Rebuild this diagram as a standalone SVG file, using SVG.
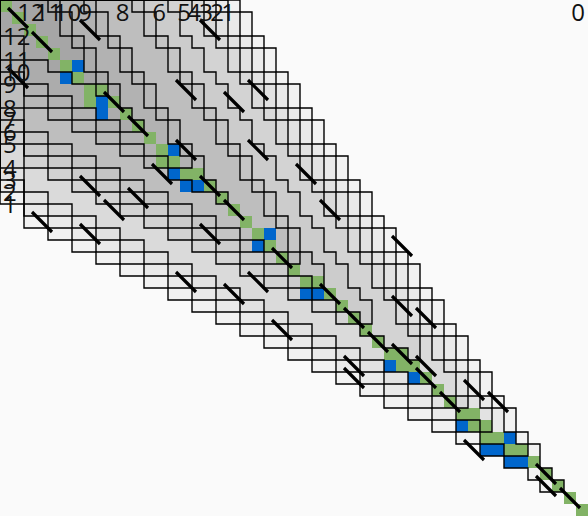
<svg xmlns="http://www.w3.org/2000/svg" width="588" height="516" viewBox="0 0 588 516">
<style>
.lbl{font-family:"Open Sans","Liberation Sans",sans-serif;font-size:24px;fill:#111}
.top{text-anchor:middle}
.g{fill:#82b366}
.b{fill:#0066cc}
</style>
<defs>
<path id="w1" d="M0,0H240V12H252V36H264V48H276V72H288V84H300V108H312V120H324V144H336V156H348V180H360V192H372V216H384V228H396V252H408V264H420V288H432V300H444V324H456V336H468V360H480V372H492V396H504V408H516V432H528V444H540V468H552V480H564V492H540V480H528V468H504V456H480V444H456V432H432V420H408V408H384V396H360V384H336V372H312V360H288V348H264V336H240V324H216V312H192V300H168V288H144V276H120V264H96V252H72V240H48V228H24V204H0Z"/>
<path id="w2" d="M0,0H228V12H240V36H252V48H264V72H276V84H288V108H300V120H312V144H324V156H336V180H348V192H360V216H372V228H384V252H396V264H408V288H420V300H432V324H444V336H456V360H468V372H480V396H492V408H504V432H516V444H528V456H504V444H480V432H456V420H432V408H408V396H384V384H360V372H336V360H312V348H288V336H264V324H240V312H216V300H192V288H168V276H144V264H120V252H96V240H72V228H48V216H24V192H0Z"/>
<path id="w3" d="M0,0H216V12H228V36H240V48H252V72H264V84H276V108H288V120H300V144H312V156H324V180H336V192H348V216H360V228H372V252H384V264H396V288H408V300H420V324H432V336H444V360H456V372H468V396H480V408H492V432H480V420H456V408H432V396H408V384H384V372H360V360H336V348H312V336H288V324H264V312H240V300H216V288H192V276H168V264H144V252H120V240H96V228H72V216H48V204H24V180H0Z"/>
<path id="w4" d="M0,0H204V12H216V36H228V48H240V72H252V84H264V108H276V120H288V144H300V156H312V180H324V192H336V216H348V228H360V252H372V264H384V288H396V300H408V324H420V336H432V360H444V372H456V396H468V408H456V396H432V384H408V372H384V360H360V348H336V336H312V324H288V312H264V300H240V288H216V276H192V264H168V252H144V240H120V228H96V216H72V204H48V192H24V168H0Z"/>
<path id="w5" d="M0,0H192V12H204V36H216V48H228V72H240V84H252V108H264V120H276V144H288V156H300V180H312V192H324V216H336V228H348V252H360V264H372V288H384V300H396V324H408V336H420V360H408V348H384V336H360V324H336V312H312V300H288V288H264V276H240V264H216V252H192V240H168V228H144V216H120V204H96V192H72V180H48V168H24V144H0Z"/>
<path id="w6" d="M0,0H168V12H180V36H192V48H204V72H216V84H228V108H240V120H252V144H264V156H276V180H288V192H300V216H312V228H324V252H336V264H348V288H360V300H372V324H360V312H336V300H312V288H288V276H264V264H240V252H216V240H192V228H168V216H144V204H120V192H96V180H72V168H48V156H24V132H0Z"/>
<path id="w7" d="M0,0H144V12H156V36H168V48H180V72H192V84H204V108H216V120H228V144H240V156H252V180H264V192H276V216H288V228H300V252H312V264H324V288H312V276H288V264H264V252H240V240H216V228H192V216H168V204H144V192H120V180H96V168H72V156H48V144H24V120H0Z"/>
<path id="w8" d="M0,0H132V12H144V36H156V48H168V72H180V84H192V108H204V120H216V144H228V156H240V180H252V192H264V216H276V228H288V252H300V264H288V252H264V240H240V228H216V216H192V204H168V192H144V180H120V168H96V156H72V144H48V132H24V108H0Z"/>
<path id="w9" d="M0,0H96V12H108V36H120V48H132V72H144V84H156V108H168V120H180V144H192V156H204V180H216V192H228V204H216V192H192V180H168V168H144V156H120V144H96V132H72V120H48V108H24V84H0Z"/>
<path id="w10" d="M0,0H84V12H96V36H108V48H120V72H132V84H144V108H156V120H168V144H180V156H192V168H168V156H144V144H120V132H96V120H72V108H48V96H24V72H0Z"/>
<path id="w11" d="M0,0H60V12H72V36H84V48H96V72H108V84H120V108H132V120H144V132H120V120H96V108H72V96H48V84H24V60H0Z"/>
<path id="w12" d="M0,0H48V12H60V36H72V48H84V72H96V84H108V96H96V84H72V72H48V60H24V36H0Z"/>
</defs>
<rect width="588" height="516" fill="#fafafa"/>
<g id="regions" fill="#000" fill-opacity="0.033">
<use href="#w1"/><use href="#w2"/><use href="#w3"/><use href="#w4"/><use href="#w5"/><use href="#w6"/>
<use href="#w7"/><use href="#w8"/><use href="#w9"/><use href="#w10"/><use href="#w11"/><use href="#w12"/>
</g>
<g id="cells">
<rect class="g" x="0" y="0" width="12" height="12"/>
<rect class="g" x="12" y="12" width="12" height="12"/>
<rect class="g" x="24" y="24" width="12" height="12"/>
<rect class="g" x="36" y="36" width="12" height="12"/>
<rect class="g" x="48" y="48" width="12" height="12"/>
<rect class="g" x="60" y="60" width="12" height="12"/><rect class="b" x="72" y="60" width="12" height="12"/>
<rect class="b" x="60" y="72" width="12" height="12"/><rect class="g" x="72" y="72" width="12" height="12"/>
<rect class="g" x="84" y="84" width="24" height="12"/>
<rect class="g" x="84" y="96" width="12" height="12"/><rect class="b" x="96" y="96" width="12" height="12"/><rect class="g" x="108" y="96" width="12" height="12"/>
<rect class="b" x="96" y="108" width="12" height="12"/><rect class="g" x="120" y="108" width="12" height="12"/>
<rect class="g" x="132" y="120" width="12" height="12"/>
<rect class="g" x="144" y="132" width="12" height="12"/>
<rect class="g" x="156" y="144" width="12" height="12"/><rect class="b" x="168" y="144" width="12" height="12"/>
<rect class="g" x="156" y="156" width="24" height="12"/>
<rect class="b" x="168" y="168" width="12" height="12"/><rect class="g" x="180" y="168" width="24" height="12"/>
<rect class="b" x="180" y="180" width="24" height="12"/><rect class="g" x="204" y="180" width="12" height="12"/>
<rect class="g" x="216" y="192" width="12" height="12"/>
<rect class="g" x="228" y="204" width="12" height="12"/>
<rect class="g" x="240" y="216" width="12" height="12"/>
<rect class="g" x="252" y="228" width="12" height="12"/><rect class="b" x="264" y="228" width="12" height="12"/>
<rect class="b" x="252" y="240" width="12" height="12"/><rect class="g" x="264" y="240" width="12" height="12"/>
<rect class="g" x="276" y="252" width="12" height="12"/>
<rect class="g" x="288" y="264" width="12" height="12"/>
<rect class="g" x="300" y="276" width="24" height="12"/>
<rect class="b" x="300" y="288" width="24" height="12"/><rect class="g" x="324" y="288" width="12" height="12"/>
<rect class="g" x="336" y="300" width="12" height="12"/>
<rect class="g" x="348" y="312" width="12" height="12"/>
<rect class="g" x="360" y="324" width="12" height="12"/>
<rect class="g" x="372" y="336" width="12" height="12"/>
<rect class="g" x="384" y="348" width="24" height="12"/>
<rect class="b" x="384" y="360" width="12" height="12"/><rect class="g" x="396" y="360" width="24" height="12"/>
<rect class="b" x="408" y="372" width="12" height="12"/><rect class="g" x="420" y="372" width="12" height="12"/>
<rect class="g" x="432" y="384" width="12" height="12"/>
<rect class="g" x="444" y="396" width="12" height="12"/>
<rect class="g" x="456" y="408" width="24" height="12"/>
<rect class="b" x="456" y="420" width="12" height="12"/><rect class="g" x="468" y="420" width="24" height="12"/>
<rect class="g" x="480" y="432" width="24" height="12"/><rect class="b" x="504" y="432" width="12" height="12"/>
<rect class="b" x="480" y="444" width="24" height="12"/><rect class="g" x="504" y="444" width="24" height="12"/>
<rect class="b" x="504" y="456" width="24" height="12"/><rect class="g" x="528" y="456" width="12" height="12"/>
<rect class="g" x="540" y="468" width="12" height="12"/>
<rect class="g" x="552" y="480" width="12" height="12"/>
<rect class="g" x="564" y="492" width="12" height="12"/>
<rect class="g" x="576" y="504" width="12" height="12"/>
</g>
<g id="outlines" fill="none" stroke="#000" stroke-width="1.4">
<use href="#w1"/><use href="#w2"/><use href="#w3"/><use href="#w4"/><use href="#w5"/><use href="#w6"/>
<use href="#w7"/><use href="#w8"/><use href="#w9"/><use href="#w10"/><use href="#w11"/><use href="#w12"/>
</g>
<g id="marks" fill="none" stroke="#000" stroke-width="3.2">
<path d="M8,8l20,20M32,32l20,20M80,20l20,20M8,68l20,20M104,92l20,20M128,116l20,20M176,80l20,20M176,140l20,20M152,164l20,20M80,176l20,20M104,200l20,20M128,188l20,20M32,212l20,20M80,224l20,20M200,20l20,20M224,92l20,20M248,80l20,20M200,176l20,20M224,200l20,20M248,140l20,20M296,164l20,20M320,200l20,20M200,224l20,20M272,248l20,20M248,272l20,20M320,284l20,20M344,308l20,20M392,236l20,20M392,296l20,20M416,308l20,20M176,272l20,20M224,284l20,20M272,320l20,20M368,332l20,20M344,356l20,20M344,368l20,20M392,344l20,20M416,356l20,20M416,368l20,20M440,392l20,20M464,380l20,20M488,392l20,20M464,440l20,20M536,464l20,20M536,476l20,20M560,488l20,20"/>
</g>
<g id="top-labels" class="lbl top">
<text x="31" y="20.5">12</text>
<text x="48.5" y="20.5">11</text>
<text x="67.5" y="20.5">10</text>
<text x="85" y="20.5">9</text>
<text x="122.5" y="20.5">8</text>
<text x="159" y="20.5">6</text>
<text x="184" y="20.5">5</text>
<text x="194" y="20.5">4</text>
<text x="206" y="20.5">3</text>
<text x="217" y="20.5">2</text>
<text x="228" y="20.5">1</text>
<text x="578" y="20.5">0</text>
</g>
<g id="left-labels" class="lbl">
<text x="3" y="45">12</text>
<text x="3" y="69">11</text>
<text x="3" y="81">10</text>
<text x="3" y="93">9</text>
<text x="3" y="117">8</text>
<text x="3" y="129">7</text>
<text x="3" y="141">6</text>
<text x="3" y="153">5</text>
<text x="3" y="177">4</text>
<text x="3" y="189">3</text>
<text x="3" y="201">2</text>
<text x="3" y="213">1</text>
</g>
</svg>
